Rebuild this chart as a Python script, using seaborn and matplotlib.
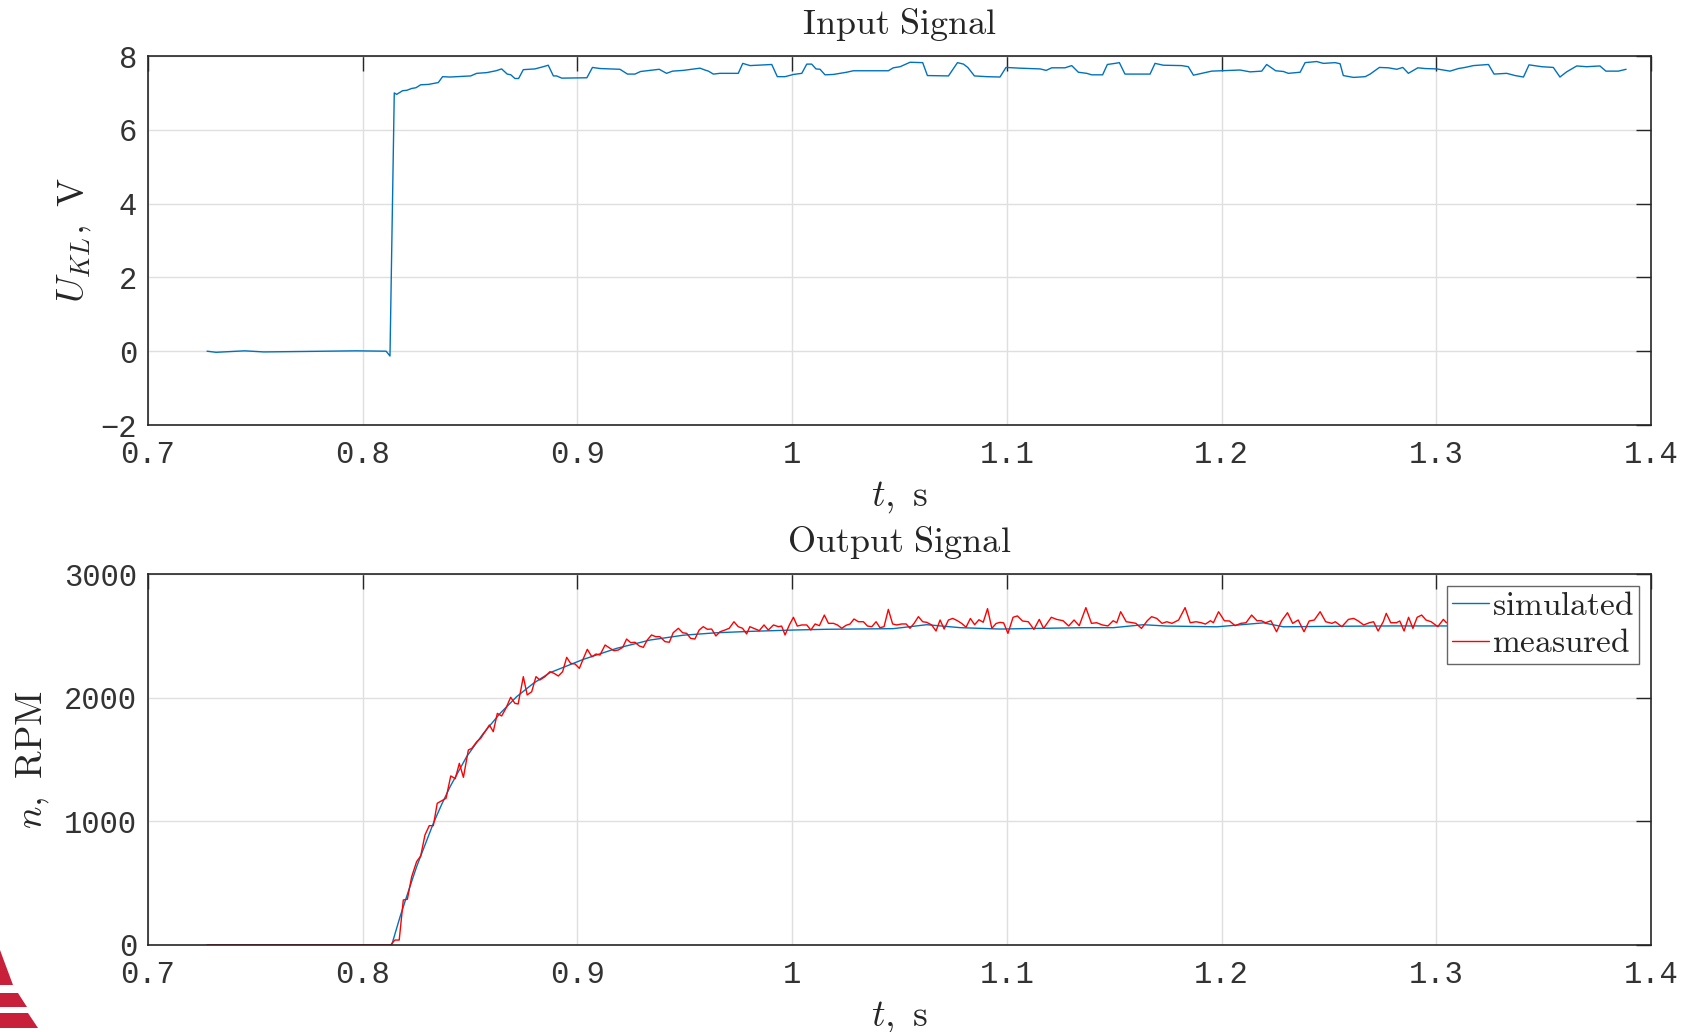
import matplotlib
matplotlib.use("Agg")
import matplotlib.pyplot as plt
from matplotlib.patches import Polygon
from matplotlib.ticker import FuncFormatter
import pandas as pd
import seaborn as sns

# ---- data ----
# input voltage U_KL over time (t in s, U in V)
input_points = [
    (0.7275, 0.0), (0.7317, -0.03), (0.7450, 0.01), (0.7540, -0.02), (0.7970, 0.01),
    (0.8109, 0.0), (0.8127, -0.13), (0.8147, 7.00), (0.8158, 6.96), (0.8186, 7.06),
    (0.8205, 7.07), (0.8228, 7.12), (0.8248, 7.14), (0.8270, 7.22), (0.8306, 7.23),
    (0.8352, 7.28), (0.8372, 7.44), (0.8406, 7.43), (0.8503, 7.46), (0.8531, 7.53),
    (0.8578, 7.55), (0.8621, 7.60), (0.8647, 7.65), (0.8673, 7.51), (0.8690, 7.49),
    (0.8709, 7.39), (0.8726, 7.39), (0.8748, 7.63), (0.8802, 7.65), (0.8841, 7.71),
    (0.8864, 7.75), (0.8888, 7.46), (0.8903, 7.46), (0.8927, 7.40), (0.9044, 7.41),
    (0.9070, 7.69), (0.9106, 7.66), (0.9198, 7.64), (0.9233, 7.51), (0.9268, 7.51),
    (0.9294, 7.58), (0.9322, 7.60), (0.9381, 7.64), (0.9415, 7.53), (0.9443, 7.59),
    (0.9493, 7.61), (0.9532, 7.64), (0.9571, 7.67), (0.9594, 7.62), (0.9610, 7.59),
    (0.9633, 7.51), (0.9664, 7.53), (0.9749, 7.53), (0.9770, 7.80), (0.9804, 7.74),
    (0.9874, 7.76), (0.9905, 7.77), (0.9931, 7.44), (0.9967, 7.44), (1.0006, 7.50),
    (1.0045, 7.53), (1.0068, 7.78), (1.0091, 7.78), (1.0111, 7.65), (1.0130, 7.64),
    (1.0153, 7.49), (1.0192, 7.50), (1.0254, 7.56), (1.0285, 7.60), (1.0332, 7.60),
    (1.0448, 7.60), (1.0471, 7.68), (1.0503, 7.71), (1.0549, 7.83), (1.0608, 7.82),
    (1.0630, 7.47), (1.0728, 7.46), (1.0770, 7.82), (1.0798, 7.78), (1.0818, 7.69),
    (1.0849, 7.46), (1.0906, 7.44), (1.0968, 7.43), (1.0996, 7.69), (1.1061, 7.67),
    (1.1155, 7.65), (1.1183, 7.61), (1.1209, 7.68), (1.1271, 7.68), (1.1302, 7.74),
    (1.1333, 7.56), (1.1372, 7.53), (1.1395, 7.49), (1.1446, 7.49), (1.1468, 7.77),
    (1.1504, 7.80), (1.1524, 7.82), (1.1550, 7.51), (1.1667, 7.51), (1.1690, 7.80),
    (1.1729, 7.75), (1.1814, 7.74), (1.1845, 7.71), (1.1869, 7.48), (1.1908, 7.53),
    (1.1954, 7.59), (1.2086, 7.62), (1.2133, 7.57), (1.2187, 7.59), (1.2210, 7.77),
    (1.2252, 7.60), (1.2288, 7.58), (1.2311, 7.53), (1.2366, 7.56), (1.2389, 7.82),
    (1.2443, 7.85), (1.2474, 7.80), (1.2529, 7.82), (1.2552, 7.79), (1.2567, 7.47),
    (1.2614, 7.42), (1.2669, 7.44), (1.2692, 7.51), (1.2735, 7.69), (1.2777, 7.68),
    (1.2816, 7.64), (1.2844, 7.69), (1.2870, 7.53), (1.2914, 7.68), (1.2948, 7.66),
    (1.3002, 7.65), (1.3033, 7.62), (1.3064, 7.59), (1.3103, 7.66), (1.3134, 7.69),
    (1.3173, 7.74), (1.3243, 7.77), (1.3269, 7.51), (1.3328, 7.53), (1.3367, 7.47),
    (1.3406, 7.43), (1.3432, 7.76), (1.3491, 7.71), (1.3545, 7.69), (1.3576, 7.43),
    (1.3607, 7.57), (1.3654, 7.73), (1.3700, 7.71), (1.3762, 7.73), (1.3790, 7.59),
    (1.3848, 7.59), (1.3884, 7.64),
]

# simulated speed n (RPM)
simulated_points = [
    (0.7275, 0), (0.8135, 0), (0.8174, 229), (0.8212, 431), (0.8251, 633),
    (0.8290, 809), (0.8329, 984), (0.8368, 1138), (0.8407, 1280), (0.8484, 1523),
    (0.8562, 1712), (0.8640, 1873), (0.8717, 2008), (0.8795, 2116), (0.8872, 2202),
    (0.9028, 2310), (0.9183, 2399), (0.9338, 2466), (0.9493, 2505), (0.9649, 2525),
    (0.9804, 2536), (1.0006, 2547), (1.0160, 2553), (1.0470, 2558), (1.0627, 2590),
    (1.0783, 2566), (1.0968, 2555), (1.1356, 2566), (1.1496, 2566), (1.1636, 2590),
    (1.1745, 2579), (1.1978, 2573), (1.2195, 2605), (1.2288, 2573), (1.2520, 2577),
    (1.2800, 2580), (1.3050, 2580), (1.3400, 2578), (1.3884, 2580),
]

# measured speed n (RPM)
measured_points = [
    (0.7275, 0), (0.8130, 0), (0.8150, 40), (0.8170, 40), (0.8189, 364), (0.8208, 370),
    (0.8228, 552), (0.8251, 674), (0.8270, 720), (0.8290, 890), (0.8310, 965), (0.8329, 965),
    (0.8347, 1146), (0.8388, 1186), (0.8410, 1367), (0.8431, 1345), (0.8450, 1469),
    (0.8469, 1356), (0.8492, 1577), (0.8508, 1590), (0.8531, 1644), (0.8549, 1671),
    (0.8570, 1725), (0.8590, 1779), (0.8608, 1725), (0.8627, 1873), (0.8647, 1852),
    (0.8667, 1914), (0.8689, 2003), (0.8709, 1954), (0.8724, 1949), (0.8748, 2170),
    (0.8766, 2022), (0.8787, 2048), (0.8807, 2170), (0.8825, 2143), (0.8849, 2170),
    (0.8872, 2210), (0.8891, 2197), (0.8911, 2175), (0.8931, 2210), (0.8950, 2326),
    (0.8968, 2278), (0.8989, 2272), (0.9009, 2237), (0.9028, 2318), (0.9046, 2391),
    (0.9067, 2331), (0.9087, 2353), (0.9105, 2345), (0.9129, 2426), (0.9152, 2399),
    (0.9170, 2380), (0.9190, 2385), (0.9211, 2407), (0.9229, 2474), (0.9248, 2445),
    (0.9268, 2448), (0.9288, 2418), (0.9307, 2407), (0.9325, 2466), (0.9345, 2507),
    (0.9365, 2493), (0.9384, 2493), (0.9408, 2453), (0.9428, 2448), (0.9446, 2525),
    (0.9470, 2561), (0.9490, 2525), (0.9509, 2520), (0.9527, 2480), (0.9547, 2474),
    (0.9567, 2547), (0.9586, 2574), (0.9605, 2553), (0.9625, 2555), (0.9645, 2499),
    (0.9664, 2533), (0.9687, 2547), (0.9707, 2561), (0.9729, 2614), (0.9749, 2574),
    (0.9769, 2561), (0.9788, 2515), (0.9803, 2574), (0.9847, 2542), (0.9869, 2588),
    (0.9889, 2547), (0.9913, 2588), (0.9936, 2574), (0.9951, 2579), (0.9967, 2507),
    (0.9987, 2588), (1.0006, 2650), (1.0024, 2579), (1.0045, 2588), (1.0068, 2588),
    (1.0087, 2547), (1.0107, 2596), (1.0127, 2582), (1.0150, 2668), (1.0169, 2601),
    (1.0192, 2601), (1.0211, 2588), (1.0231, 2561), (1.0251, 2585), (1.0270, 2596),
    (1.0288, 2636), (1.0309, 2614), (1.0332, 2614), (1.0351, 2579), (1.0371, 2574),
    (1.0391, 2614), (1.0409, 2566), (1.0428, 2574), (1.0448, 2714), (1.0468, 2596),
    (1.0487, 2588), (1.0510, 2596), (1.0531, 2596), (1.0549, 2561), (1.0568, 2601),
    (1.0588, 2655), (1.0608, 2614), (1.0627, 2609), (1.0650, 2588), (1.0670, 2539),
    (1.0689, 2628), (1.0708, 2555), (1.0728, 2628), (1.0748, 2641), (1.0770, 2622),
    (1.0790, 2600), (1.0810, 2570), (1.0830, 2640), (1.0850, 2590), (1.0870, 2630),
    (1.0890, 2610), (1.0910, 2720), (1.0930, 2560), (1.0950, 2600), (1.0968, 2609),
    (1.0985, 2605), (1.1005, 2520), (1.1029, 2650), (1.1049, 2661), (1.1073, 2620),
    (1.1100, 2614), (1.1126, 2552), (1.1151, 2633), (1.1171, 2560), (1.1207, 2650),
    (1.1232, 2633), (1.1262, 2622), (1.1288, 2580), (1.1313, 2628), (1.1337, 2582),
    (1.1368, 2728), (1.1394, 2601), (1.1418, 2606), (1.1445, 2588), (1.1471, 2580),
    (1.1495, 2622), (1.1512, 2606), (1.1530, 2695), (1.1556, 2614), (1.1576, 2609),
    (1.1601, 2601), (1.1627, 2560), (1.1654, 2622), (1.1674, 2655), (1.1698, 2641),
    (1.1723, 2601), (1.1745, 2614), (1.1769, 2601), (1.1800, 2628), (1.1830, 2728),
    (1.1854, 2606), (1.1881, 2614), (1.1905, 2606), (1.1925, 2595), (1.1948, 2622),
    (1.1962, 2606), (1.1986, 2695), (1.2013, 2622), (1.2037, 2620), (1.2063, 2582),
    (1.2090, 2601), (1.2114, 2606), (1.2140, 2668), (1.2165, 2622), (1.2185, 2622),
    (1.2205, 2606), (1.2230, 2622), (1.2256, 2533), (1.2280, 2622), (1.2307, 2687),
    (1.2331, 2601), (1.2357, 2628), (1.2384, 2533), (1.2408, 2620), (1.2432, 2628),
    (1.2459, 2695), (1.2485, 2614), (1.2514, 2601), (1.2530, 2614), (1.2560, 2574),
    (1.2591, 2633), (1.2615, 2641), (1.2635, 2622), (1.2662, 2588), (1.2688, 2606),
    (1.2708, 2614), (1.2729, 2539), (1.2753, 2614), (1.2767, 2682), (1.2788, 2606),
    (1.2814, 2606), (1.2830, 2620), (1.2850, 2539), (1.2871, 2650), (1.2891, 2560),
    (1.2911, 2650), (1.2932, 2668), (1.2952, 2628), (1.2976, 2614), (1.3007, 2574),
    (1.3033, 2633), (1.3047, 2606), (1.3070, 2620), (1.3100, 2590), (1.3130, 2640),
    (1.3160, 2600), (1.3200, 2625), (1.3250, 2580), (1.3300, 2630), (1.3350, 2600),
    (1.3400, 2615), (1.3450, 2590), (1.3500, 2635), (1.3550, 2600), (1.3600, 2620),
    (1.3650, 2585), (1.3700, 2630), (1.3750, 2605), (1.3800, 2615), (1.3850, 2595),
    (1.3884, 2610),
]

x_ticks = [0.7, 0.8, 0.9, 1.0, 1.1, 1.2, 1.3, 1.4]
y_ticks_in = [-2, 0, 2, 4, 6, 8]
y_ticks_out = [0, 1000, 2000, 3000]

BLUE = "#0072BD"
RED = "#FF0000"
DARK = "#262626"

df_in = pd.DataFrame(input_points, columns=["t", "u"])
df_sim = pd.DataFrame(simulated_points, columns=["t", "n"])
df_meas = pd.DataFrame(measured_points, columns=["t", "n"])

sns.set_style("white")
plt.rcParams["font.family"] = ["Liberation Mono", "DejaVu Sans Mono"]
plt.rcParams["mathtext.fontset"] = "cm"
plt.rcParams["axes.unicode_minus"] = True

fig = plt.figure(figsize=(16.83, 10.32), dpi=100)
ax_top = fig.add_axes([148 / 1683, 1 - 425 / 1032, 1503 / 1683, 369 / 1032])
ax_bot = fig.add_axes([148 / 1683, 1 - 945 / 1032, 1503 / 1683, 371 / 1032])

sns.lineplot(data=df_in, x="t", y="u", ax=ax_top, color=BLUE, lw=1.0,
             estimator=None, sort=False)
sns.lineplot(data=df_sim, x="t", y="n", ax=ax_bot, color=BLUE, lw=1.0,
             estimator=None, sort=False, label=r"$\mathrm{simulated}$")
sns.lineplot(data=df_meas, x="t", y="n", ax=ax_bot, color=RED, lw=1.0,
             estimator=None, sort=False, label=r"$\mathrm{measured}$")


def style_axes(ax, yticks, ylim):
    ax.set_xlim(0.7, 1.4)
    ax.set_ylim(*ylim)
    ax.set_xticks(x_ticks)
    ax.set_yticks(yticks)
    ax.xaxis.set_major_formatter(FuncFormatter(lambda v, p: f"{v:g}"))
    ax.yaxis.set_major_formatter(FuncFormatter(lambda v, p: f"{v:g}".replace("-", "\u2212")))
    ax.grid(True, color="#dfdfdf", lw=1.0)
    ax.tick_params(direction="in", length=11, width=1.0, top=True, right=True,
                   color=DARK, labelcolor="#333333", labelsize=22)
    ax.tick_params(axis="x", pad=11)
    ax.tick_params(axis="y", pad=8)
    for sp in ax.spines.values():
        sp.set_color(DARK)
        sp.set_linewidth(1.2)
    ax.set_xlabel(r"$t,\ \mathrm{s}$", fontsize=27, color=DARK, labelpad=6)


style_axes(ax_top, y_ticks_in, (-2, 8))
style_axes(ax_bot, y_ticks_out, (0, 3000))

ax_top.set_title(r"$\mathrm{Input\ Signal}$", fontsize=26, pad=16)
ax_bot.set_title(r"$\mathrm{Output\ Signal}$", fontsize=26, pad=16)
ax_top.set_ylabel(r"$U_{KL},\ \mathrm{V}$", fontsize=27, color=DARK, labelpad=5)
ax_bot.set_ylabel(r"$n,\ \mathrm{RPM}$", fontsize=27, color=DARK, labelpad=9)

leg = ax_bot.legend(loc="upper right", fontsize=24, frameon=True, fancybox=False,
                    framealpha=1.0, edgecolor="#666666", borderaxespad=0.35,
                    handlelength=1.1, handletextpad=0.1, labelspacing=0.2,
                    borderpad=0.15)
leg.get_frame().set_linewidth(1.0)
leg.set_zorder(10)

# partial red logo in the bottom-left corner
H = 1032
logo = [
    [(0, H - 950), (13, H - 985), (0, H - 985)],
    [(0, H - 993), (18, H - 993), (27, H - 1007), (0, H - 1007)],
    [(0, H - 1013), (28, H - 1013), (38, H - 1028), (0, H - 1028)],
]
for pts in logo:
    fig.add_artist(Polygon(pts, closed=True, transform=None, facecolor="#c8203a",
                           edgecolor="none"))

fig.savefig("out.png", dpi=100)
